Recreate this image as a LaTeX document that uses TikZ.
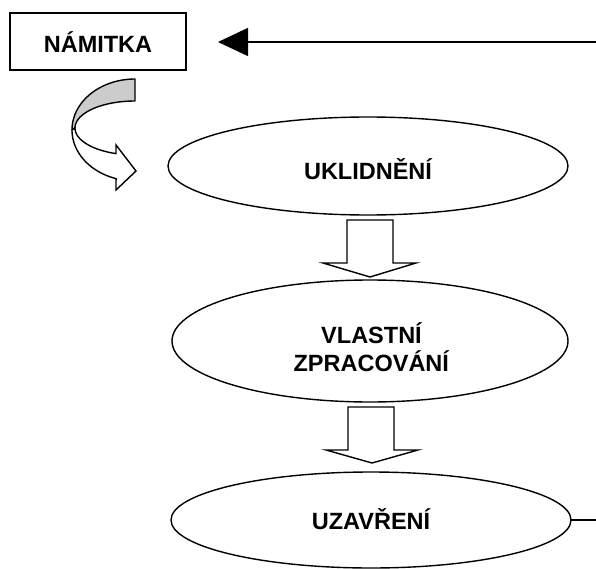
\documentclass[tikz,border=0pt]{standalone}
\usepackage{fontspec}
\setmainfont{Liberation Sans}
\usetikzlibrary{shapes.geometric,arrows.meta}
\tikzset{
  lw/.style={line width=1.4pt},
  boxst/.style={draw,lw,rectangle,minimum width=176pt,minimum height=57pt,inner sep=0pt,outer sep=0pt},
  ellst/.style={draw,lw,ellipse,inner sep=0pt,outer sep=0pt},
  txt/.style={font=\fontsize{23.5}{26}\selectfont\bfseries,anchor=base,inner sep=0pt},
  blockarrow/.style={draw,lw,fill=white,line join=miter},
}
\begin{document}
\begin{tikzpicture}[x=1pt,y=-1pt]
\useasboundingbox (0,0) rectangle (596,569);
% shapes
\node[boxst] (nam) at (98,41.5) {};
\node[txt] (namt) at (98,53) {NÁMITKA};
\node[ellst,minimum width=400pt,minimum height=98pt] (e1) at (368,166) {};
\node[txt] (e1t) at (368,180) {UKLIDNĚNÍ};
\node[ellst,minimum width=396pt,minimum height=122pt] (e2) at (370,341) {};
\node[txt] (e2a) at (371.5,343) {VLASTNÍ};
\node[txt] (e2b) at (371.3,371) {ZPRACOVÁNÍ};
\node[ellst,minimum width=400pt,minimum height=96pt] (e3) at (371,520) {};
\node[txt] (e3t) at (371,529) {UZAVŘENÍ};
% incoming arrow
\coordinate (rin) at (596,42);
\draw[lw,-{Triangle[length=30pt,width=28pt]},shorten >=32pt] (rin) -- (nam.east |- rin);
% outgoing line
\coordinate (rout) at (596,520);
\draw[lw] (e3.east) -- (e3.east -| rout);
% block arrows
\draw[blockarrow] (347,220) -- (393,220) -- (393,263) -- (416,263) -- (370,277) -- (323,263) -- (347,263) -- cycle;
\draw[blockarrow] (348,407) -- (394,407) -- (394,450) -- (418,450) -- (372,463) -- (326,450) -- (348,450) -- cycle;
% curved arrow (gray back part)
\draw[lw,fill=gray!40,line join=round]
  plot[domain=90:180,samples=40] ({135+63*cos(\x)},{130-51*sin(\x)})
  -- plot[domain=180:90,samples=40] ({135+60*cos(\x)},{128-27*sin(\x)}) -- cycle;
% curved arrow (white front part)
\draw[lw,fill=white,line join=miter]
  plot[domain=180:252.5,samples=40] ({135+63*cos(\x)},{130-51*sin(\x)})
  -- (116,190) -- (136,171) -- (116,145)
  -- plot[domain=251.5:180,samples=40] ({135+60*cos(\x)},{128-27*sin(\x)}) -- cycle;
\end{tikzpicture}
\end{document}
